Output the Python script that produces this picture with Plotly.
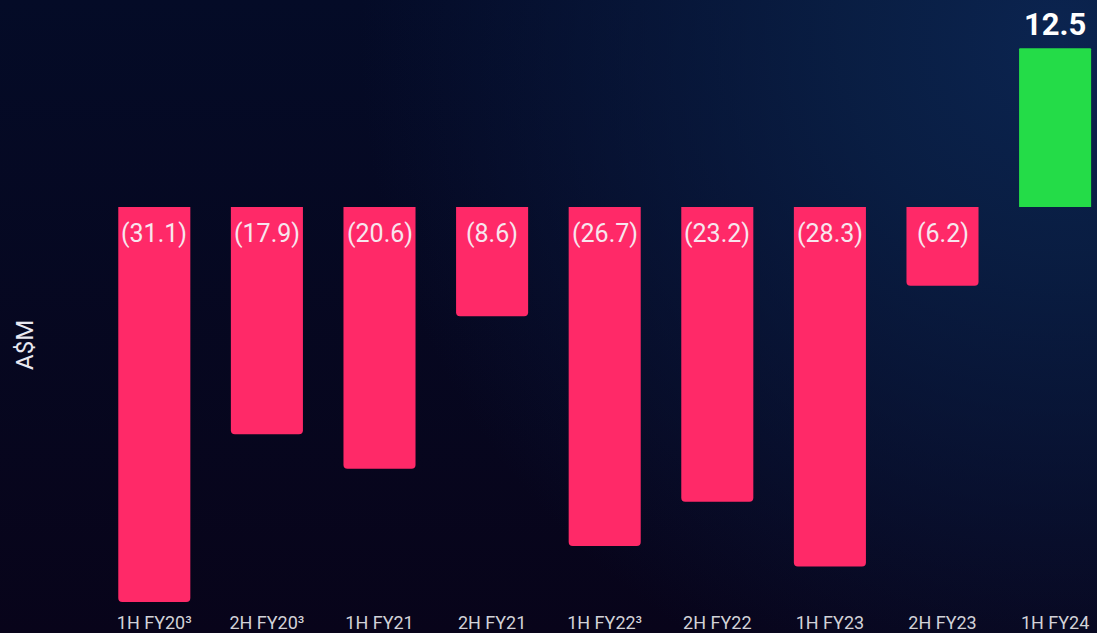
import base64
import plotly.graph_objects as go

categories = ["1H FY20³", "2H FY20³", "1H FY21", "2H FY21", "1H FY22³",
              "2H FY22", "1H FY23", "2H FY23", "1H FY24"]
values = [-31.1, -17.9, -20.6, -8.6, -26.7, -23.2, -28.3, -6.2, 12.5]

neg_cats = [c for c, v in zip(categories, values) if v < 0]
neg_vals = [v for v in values if v < 0]
pos_cats = [c for c, v in zip(categories, values) if v >= 0]
pos_vals = [v for v in values if v >= 0]


def fmt(v):
    return f"({abs(v):.1f})" if v < 0 else f"{v:.1f}"


W, H = 1097, 633

svg = f"""<svg xmlns='http://www.w3.org/2000/svg' width='{W}' height='{H}' viewBox='0 0 {W} {H}' preserveAspectRatio='none'>
<defs>
<linearGradient id='a' x1='0' y1='0' x2='0' y2='1'>
<stop offset='0' stop-color='#040b27'/>
<stop offset='1' stop-color='#08041a'/>
</linearGradient>
<radialGradient id='b' gradientUnits='userSpaceOnUse' cx='1060' cy='40' r='700'>
<stop offset='0' stop-color='#0b2450' stop-opacity='1'/>
<stop offset='0.3' stop-color='#0a2148' stop-opacity='0.85'/>
<stop offset='1' stop-color='#0a1e48' stop-opacity='0'/>
</radialGradient>
</defs>
<rect x='0' y='0' width='{W}' height='{H}' fill='url(#a)'/>
<rect x='0' y='0' width='{W}' height='{H}' fill='url(#b)'/>
</svg>"""
bg_uri = "data:image/svg+xml;base64," + base64.b64encode(svg.encode()).decode()

fig = go.Figure()
fig.add_trace(go.Bar(
    x=neg_cats, y=neg_vals,
    marker=dict(color="#ff2968", cornerradius=4, line=dict(width=0)),
    hoverinfo="x+y",
))
fig.add_trace(go.Bar(
    x=pos_cats, y=pos_vals,
    marker=dict(color="#24dc48", cornerradius=1, line=dict(width=0)),
    hoverinfo="x+y",
))

annotations = []
for c, v in zip(neg_cats, neg_vals):
    annotations.append(dict(x=c, y=0, xref="x", yref="y", text=fmt(v),
                            showarrow=False, xanchor="center", yanchor="middle",
                            yshift=-26,
                            font=dict(family="Roboto", size=25, color="#f7e6ee")))
for c, v in zip(pos_cats, pos_vals):
    annotations.append(dict(x=c, y=v, xref="x", yref="y", text=f"<b>{fmt(v)}</b>",
                            showarrow=False, xanchor="center", yanchor="middle",
                            yshift=24,
                            font=dict(family="Roboto", size=31, color="#ffffff")))
annotations.append(dict(text="A$M", xref="paper", yref="paper",
                        x=25 / W, y=1 - 345 / H, textangle=-90,
                        showarrow=False, xanchor="center", yanchor="middle",
                        font=dict(family="Roboto", size=24, color="#e8e8f0")))

plot_left = 98
x_step = 112.6
x_end = -0.5 + (W - plot_left) / x_step

fig.update_layout(
    width=W, height=H,
    margin=dict(l=0, r=0, t=0, b=0),
    paper_bgcolor="#060824", plot_bgcolor="rgba(0,0,0,0)",
    barmode="overlay", bargap=0.36,
    showlegend=False,
    font=dict(family="Roboto", color="#d0d0d6"),
    xaxis=dict(domain=[plot_left / W, 1], range=[-0.5, x_end],
               showgrid=False, zeroline=False, showline=False, ticks="",
               ticklabelstandoff=7,
               tickfont=dict(family="Roboto", size=18, color="#d2d2d8"),
               categoryorder="array", categoryarray=categories),
    yaxis=dict(domain=[30 / H, 1], range=[-31.18, 16.30],
               showgrid=False, zeroline=False, showline=False,
               showticklabels=False, ticks=""),
    images=[dict(source=bg_uri, xref="paper", yref="paper", x=0, y=1,
                 sizex=1, sizey=1, xanchor="left", yanchor="top",
                 sizing="stretch", layer="below")],
    annotations=annotations,
)

fig.write_html("out.html",
               config={"displayModeBar": False},
               post_script="document.body.style.margin='0';document.body.style.overflow='hidden';")
